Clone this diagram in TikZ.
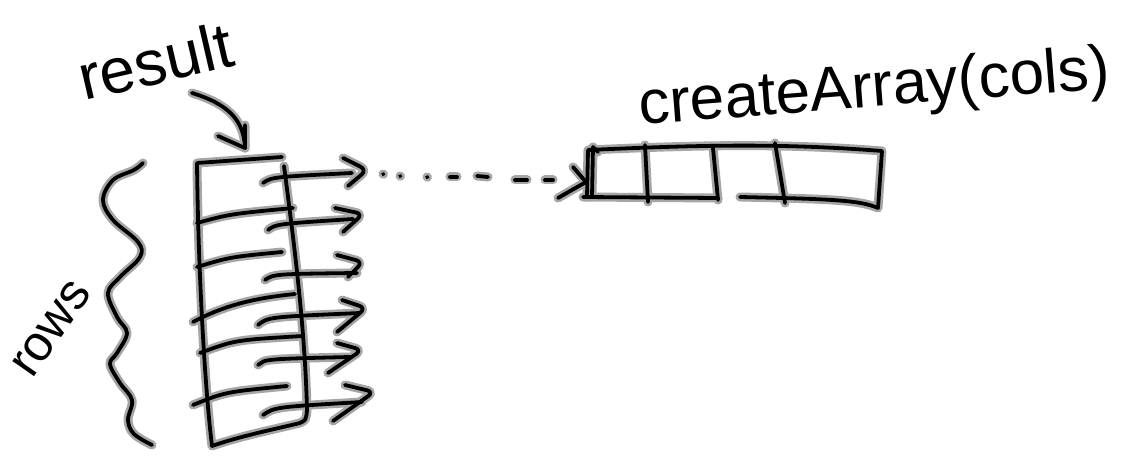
\documentclass[tikz,border=0pt]{standalone}
\usepackage{fontspec}
\setmainfont{Liberation Sans}
\tikzset{
  haloline/.style={draw=gray!70, line width=9pt, line cap=round, line join=round},
  inkline/.style={draw=black, line width=3.8pt, line cap=round, line join=round},
  hand/.style={inner sep=0pt, text=black},
}
\newcommand{\sketchpaths}[1]{%
  % arrow from "result" to the column
  \coordinate (resTail) at (192,93);
  \coordinate (colTop) at (245,148);
  \draw[#1] (resTail) .. controls (228,104) and (244,120) .. (colTop);
  \draw[#1] (218,136) -- (colTop) -- (245,125);
  % column (result array)
  \draw[#1] (282,157) -- (197,163) .. controls (198,260) and (204,380) .. (212,446)
     .. controls (240,436) and (280,428) .. (300,423) .. controls (306,420) .. (307,410)
     .. controls (305,330) and (295,250) .. (284,166);
  % left halves of row lines
  \draw[#1] (197,223) .. controls (230,214) .. (293,208);
  \draw[#1] (197,267) .. controls (230,257) .. (282,252);
  \draw[#1] (193,322) .. controls (225,305) and (255,298) .. (295,294);
  \draw[#1] (200,353) .. controls (235,340) .. (303,336);
  \draw[#1] (193,405) .. controls (225,392) .. (287,386);
  % row arrows
  \draw[#1] (263,183) .. controls (272,177) .. (352,173);
  \draw[#1, rounded corners=7pt] (343,158) -- (367,170) -- (348,186);
  \draw[#1] (268,230) .. controls (276,224) .. (353,219);
  \draw[#1, rounded corners=7pt] (335,208) -- (363,214) -- (343,232);
  \draw[#1] (265,280) .. controls (274,274) .. (357,273);
  \draw[#1, rounded corners=7pt] (337,255) -- (363,262) -- (348,277);
  \draw[#1] (258,325) .. controls (268,317) .. (360,313);
  \draw[#1, rounded corners=7pt] (342,300) -- (366,308) -- (337,332);
  \draw[#1] (258,365) .. controls (265,359) .. (350,357);
  \draw[#1, rounded corners=7pt] (337,343) -- (362,350) -- (328,373);
  \draw[#1] (263,415) .. controls (275,407) .. (362,402);
  \draw[#1, rounded corners=7pt] (345,385) -- (374,392) -- (333,421);
  % rows brace (wavy line)
  \draw[#1] plot[smooth, tension=0.6] coordinates {(143,163) (134,170) (113,180) (103,200) (113,220)
     (138,242) (140,257) (120,277) (108,293) (117,317) (127,333) (117,353) (110,364)
     (120,383) (132,400) (128,420) (134,434) (152,445)};
  % dotted connector to the new array
  \draw[#1] (383,174) -- (383.5,174.2);
  \draw[#1] (400,176) -- (400.5,176.2);
  \draw[#1] (427,177) -- (427.5,177.2);
  \draw[#1] (450,177) -- (457,177);
  \draw[#1] (477,176) -- (488,177);
  \draw[#1] (515,180) -- (527,180);
  \draw[#1] (545,180) -- (553,180);
  \coordinate (arrTail) at (558,198);
  \coordinate (arrHead) at (586,182);
  \draw[#1] (arrTail) -- (arrHead);
  \draw[#1] (573,167) -- (arrHead);
  % the new array of cols
  \draw[#1] (587,197) -- (588,150) .. controls (700,145) and (780,143) .. (882,151)
     -- (878,208) .. controls (860,200) and (830,199) .. (740,197);
  \draw[#1] (592,196) -- (593,147) -- (598,152);
  \draw[#1] (583,197) -- (718,198);
  \draw[#1] (645,145) -- (648,202);
  \draw[#1] (713,148) -- (718,200);
  \draw[#1] (775,143) -- (785,203);
}
\begin{document}
\begin{tikzpicture}[x=1pt,y=-1pt]
  \useasboundingbox[fill=white] (0,0) rectangle (1132,457);
  \sketchpaths{haloline}
  \sketchpaths{inkline}
  \node[hand, font=\fontsize{64}{64}\selectfont, rotate=13, anchor=base west]
     (result) at (84,101) {result};
  \node[hand, font=\fontsize{50}{50}\selectfont, rotate=55, anchor=base west]
     (rows) at (32,380) {rows};
  \node[hand, font=\fontsize{62}{62}\selectfont, rotate=4.5, anchor=base west]
     (create) at (640,125) {createArray(cols)};
\end{tikzpicture}
\end{document}
